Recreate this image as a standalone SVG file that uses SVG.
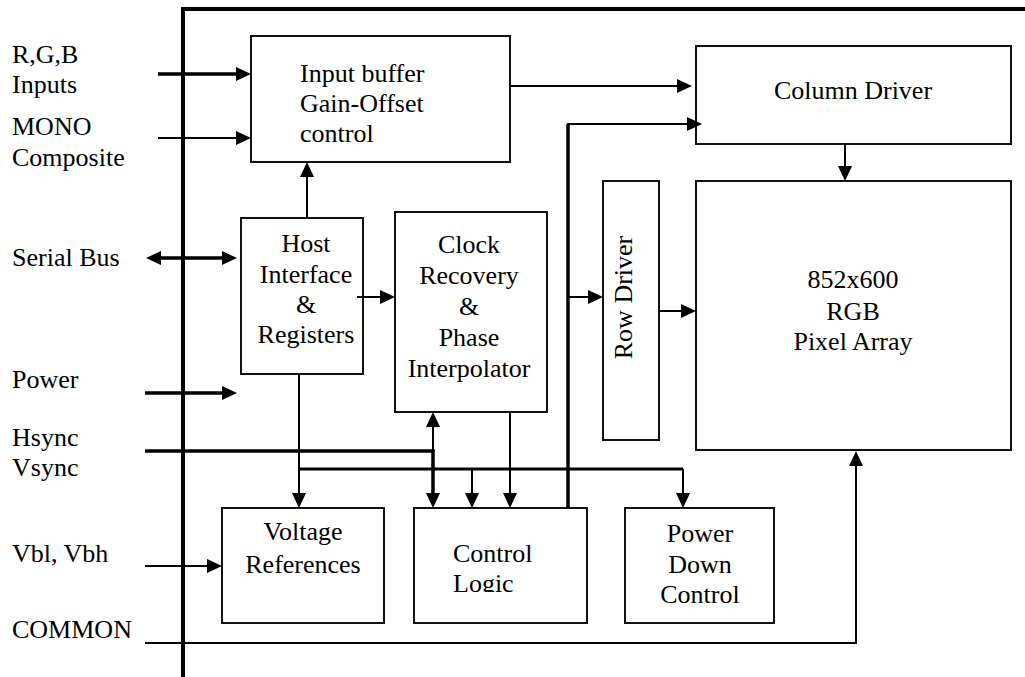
<svg xmlns="http://www.w3.org/2000/svg" width="1025" height="677" viewBox="0 0 1025 677">
<style>
text{font-family:"Liberation Serif","Times New Roman",serif;font-size:26px;fill:#000}
.box{fill:#fff;stroke:#111;stroke-width:2}
.c{text-anchor:middle}
.thin{fill:none;stroke:#000;stroke-width:2}
.med{fill:none;stroke:#000;stroke-width:3}
.thick{fill:none;stroke:#000;stroke-width:3.5}
.frame{fill:none;stroke:#000;stroke-width:4}
.a{marker-end:url(#ah)}
</style>
<defs>
<marker id="ah" viewBox="0 0 15 14" refX="11" refY="7" markerWidth="15" markerHeight="14" markerUnits="userSpaceOnUse" orient="auto-start-reverse">
<path d="M0 0L15 7L0 14z" fill="#000"/>
</marker>
<clipPath id="clipLogic"><rect x="414" y="508" width="173" height="84"/></clipPath>
</defs>
<rect width="1025" height="677" fill="#fff"/>
<g id="frame"><path class="frame" d="M183 677V9H1025"/></g>
<g id="labels">
<text x="12" y="63">R,G,B</text>
<text x="12" y="93">Inputs</text>
<text x="12" y="135">MONO</text>
<text x="12" y="166">Composite</text>
<text x="12" y="266">Serial Bus</text>
<text x="12" y="388">Power</text>
<text x="12" y="446">Hsync</text>
<text x="12" y="476">Vsync</text>
<text x="12" y="562">Vbl, Vbh</text>
<text x="12" y="638">COMMON</text>
</g>
<g id="input-buffer"><rect class="box" x="251" y="36" width="259" height="126"/>
<text x="300" y="82">Input buffer</text><text x="300" y="112">Gain-Offset</text><text x="300" y="142">control</text></g>
<g id="column-driver"><rect class="box" x="696" y="46" width="315" height="98"/>
<text class="c" x="853" y="99">Column Driver</text></g>
<g id="host-interface"><rect class="box" x="241" y="218" width="122" height="156"/>
<text class="c" x="306" y="252">Host</text><text class="c" x="306" y="283">Interface</text><text class="c" x="306" y="313">&amp;</text><text class="c" x="306" y="343">Registers</text></g>
<g id="clock-recovery"><rect class="box" x="395" y="212" width="152" height="200"/>
<text class="c" x="469" y="253">Clock</text><text class="c" x="469" y="284">Recovery</text><text class="c" x="469" y="315">&amp;</text><text class="c" x="469" y="346">Phase</text><text class="c" x="469" y="377">Interpolator</text></g>
<g id="row-driver"><rect class="box" x="603" y="181" width="56" height="259"/>
<text class="c" transform="translate(632 297.5) rotate(-90)">Row Driver</text></g>
<g id="pixel-array"><rect class="box" x="696" y="181" width="315" height="269"/>
<text class="c" x="853" y="288">852x600</text><text class="c" x="853" y="320">RGB</text><text class="c" x="853" y="350">Pixel Array</text></g>
<g id="voltage-references"><rect class="box" x="222" y="508" width="162" height="115"/>
<text class="c" x="303" y="540">Voltage</text><text class="c" x="303" y="573">References</text></g>
<g id="control-logic"><rect class="box" x="414" y="508" width="173" height="115"/>
<text x="453" y="562">Control</text><text x="453" y="592" clip-path="url(#clipLogic)">Logic</text></g>
<g id="power-down"><rect class="box" x="625" y="508" width="149" height="115"/>
<text class="c" x="700" y="542">Power</text><text class="c" x="700" y="573">Down</text><text class="c" x="700" y="603">Control</text></g>
<g id="connectors">
<path class="thick a" d="M158 74H247"/>
<path class="thin a" d="M158 138H247"/>
<path class="thick a" d="M150 258H233" marker-start="url(#ah)"/>
<path class="thick a" d="M145 393H233"/>
<path class="thick a" d="M145 451H433V504"/>
<path class="thin a" d="M433 451V416"/>
<path class="thin a" d="M145 566H218"/>
<path class="thin a" d="M145 643H856V455"/>
<path class="thin a" d="M307 218V166"/>
<path class="thin a" d="M357 297H391"/>
<path class="thin a" d="M299 374V504"/>
<path class="med" d="M299 469H683"/>
<path class="thin a" d="M683 469V504"/>
<path class="thin a" d="M472 469V504"/>
<path class="thin a" d="M510 412V504"/>
<path class="thick" d="M568 508V124"/>
<path class="thin a" d="M567 124H698"/>
<path class="thin a" d="M568 297H599"/>
<path class="thin a" d="M510 86H688"/>
<path class="thin a" d="M845 144V177"/>
<path class="thin a" d="M659 311H692"/>
</g>
</svg>
